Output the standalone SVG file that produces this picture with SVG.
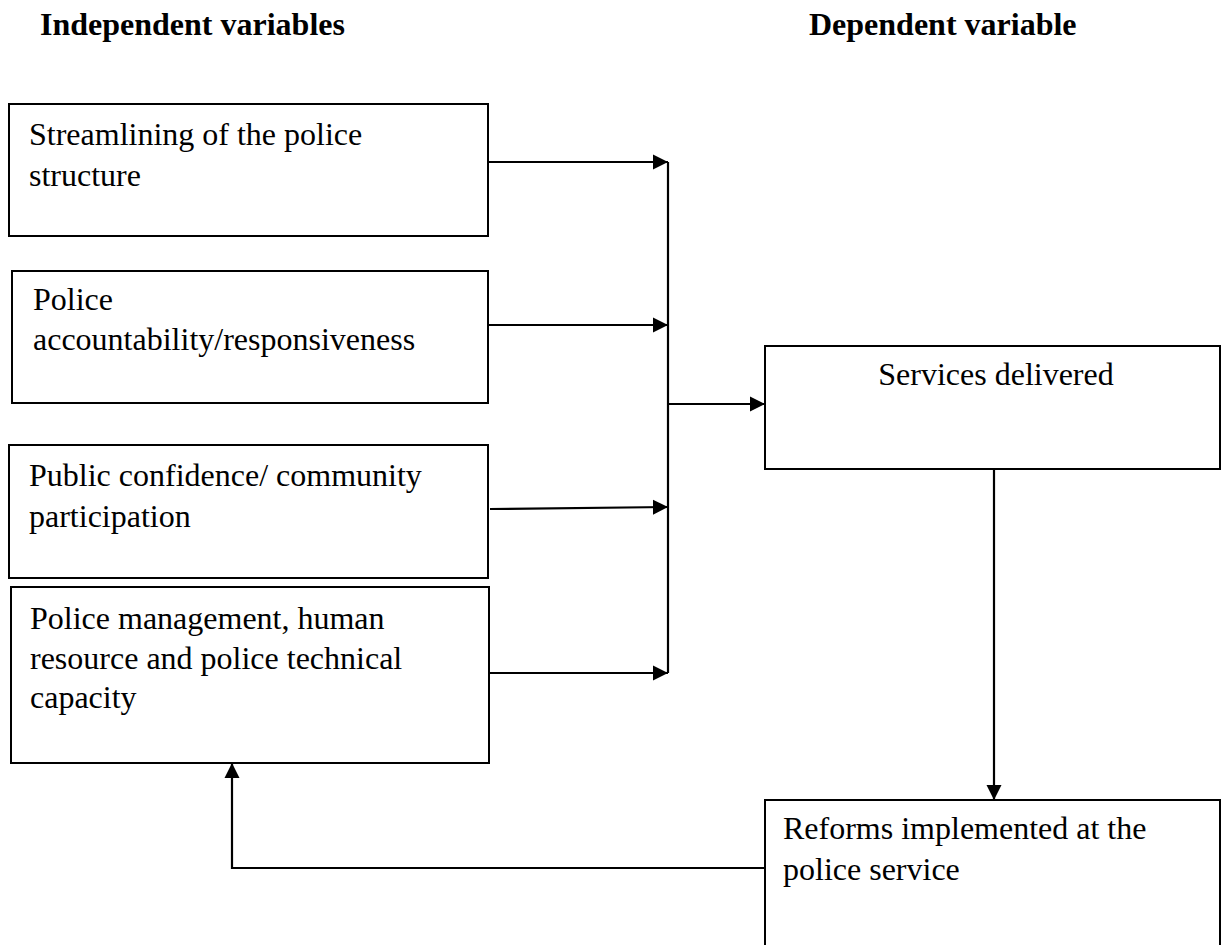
<svg xmlns="http://www.w3.org/2000/svg" width="1222" height="945" viewBox="0 0 1222 945">
<style>
.box{fill:#fff;stroke:#000;stroke-width:2}
.t{font-family:"Liberation Serif","Times New Roman",serif;font-size:32px;fill:#000}
.h{font-family:"Liberation Serif","Times New Roman",serif;font-size:32px;font-weight:bold;fill:#000}
.c{fill:none;stroke:#000;stroke-width:2.2}
</style>
<defs>
<marker id="ah" viewBox="0 0 10 10" refX="10" refY="5" markerWidth="7" markerHeight="7" orient="auto" markerUnits="strokeWidth">
<path d="M0,0 L10,5 L0,10 Z" fill="#000"/>
</marker>
</defs>
<rect width="1222" height="945" fill="#fff"/>
<g id="headers">
<text class="h" x="40" y="35">Independent variables</text>
<text class="h" x="809" y="35">Dependent variable</text>
</g>
<g id="n1">
<rect class="box" x="9" y="104" width="479" height="132"/>
<text class="t" x="29" y="145">Streamlining of the police</text>
<text class="t" x="29" y="186">structure</text>
</g>
<g id="n2">
<rect class="box" x="12" y="271" width="476" height="132"/>
<text class="t" x="33" y="310">Police</text>
<text class="t" x="33" y="350">accountability/responsiveness</text>
</g>
<g id="n3">
<rect class="box" x="9" y="445" width="479" height="133"/>
<text class="t" x="29" y="486">Public confidence/ community</text>
<text class="t" x="29" y="527">participation</text>
</g>
<g id="n4">
<rect class="box" x="11" y="587" width="478" height="176"/>
<text class="t" x="30" y="629">Police management, human</text>
<text class="t" x="30" y="669">resource and police technical</text>
<text class="t" x="30" y="708">capacity</text>
</g>
<g id="n5">
<rect class="box" x="765" y="346" width="455" height="123"/>
<text class="t" x="996" y="385" text-anchor="middle">Services delivered</text>
</g>
<g id="n6">
<rect class="box" x="765" y="800" width="455" height="160"/>
<text class="t" x="783" y="839">Reforms implemented at the</text>
<text class="t" x="783" y="880">police service</text>
</g>
<g id="connectors">
<line class="c" x1="668" y1="162" x2="668" y2="673"/>
<line class="c" x1="488" y1="162" x2="668" y2="162" marker-end="url(#ah)"/>
<line class="c" x1="488" y1="325" x2="668" y2="325" marker-end="url(#ah)"/>
<line class="c" x1="490" y1="509" x2="668" y2="507" marker-end="url(#ah)"/>
<line class="c" x1="489" y1="673" x2="668" y2="673" marker-end="url(#ah)"/>
<line class="c" x1="668" y1="404" x2="765" y2="404" marker-end="url(#ah)"/>
<line class="c" x1="994" y1="469" x2="994" y2="800" marker-end="url(#ah)"/>
<polyline class="c" points="765,868 232,868 232,763" marker-end="url(#ah)"/>
</g>
</svg>
